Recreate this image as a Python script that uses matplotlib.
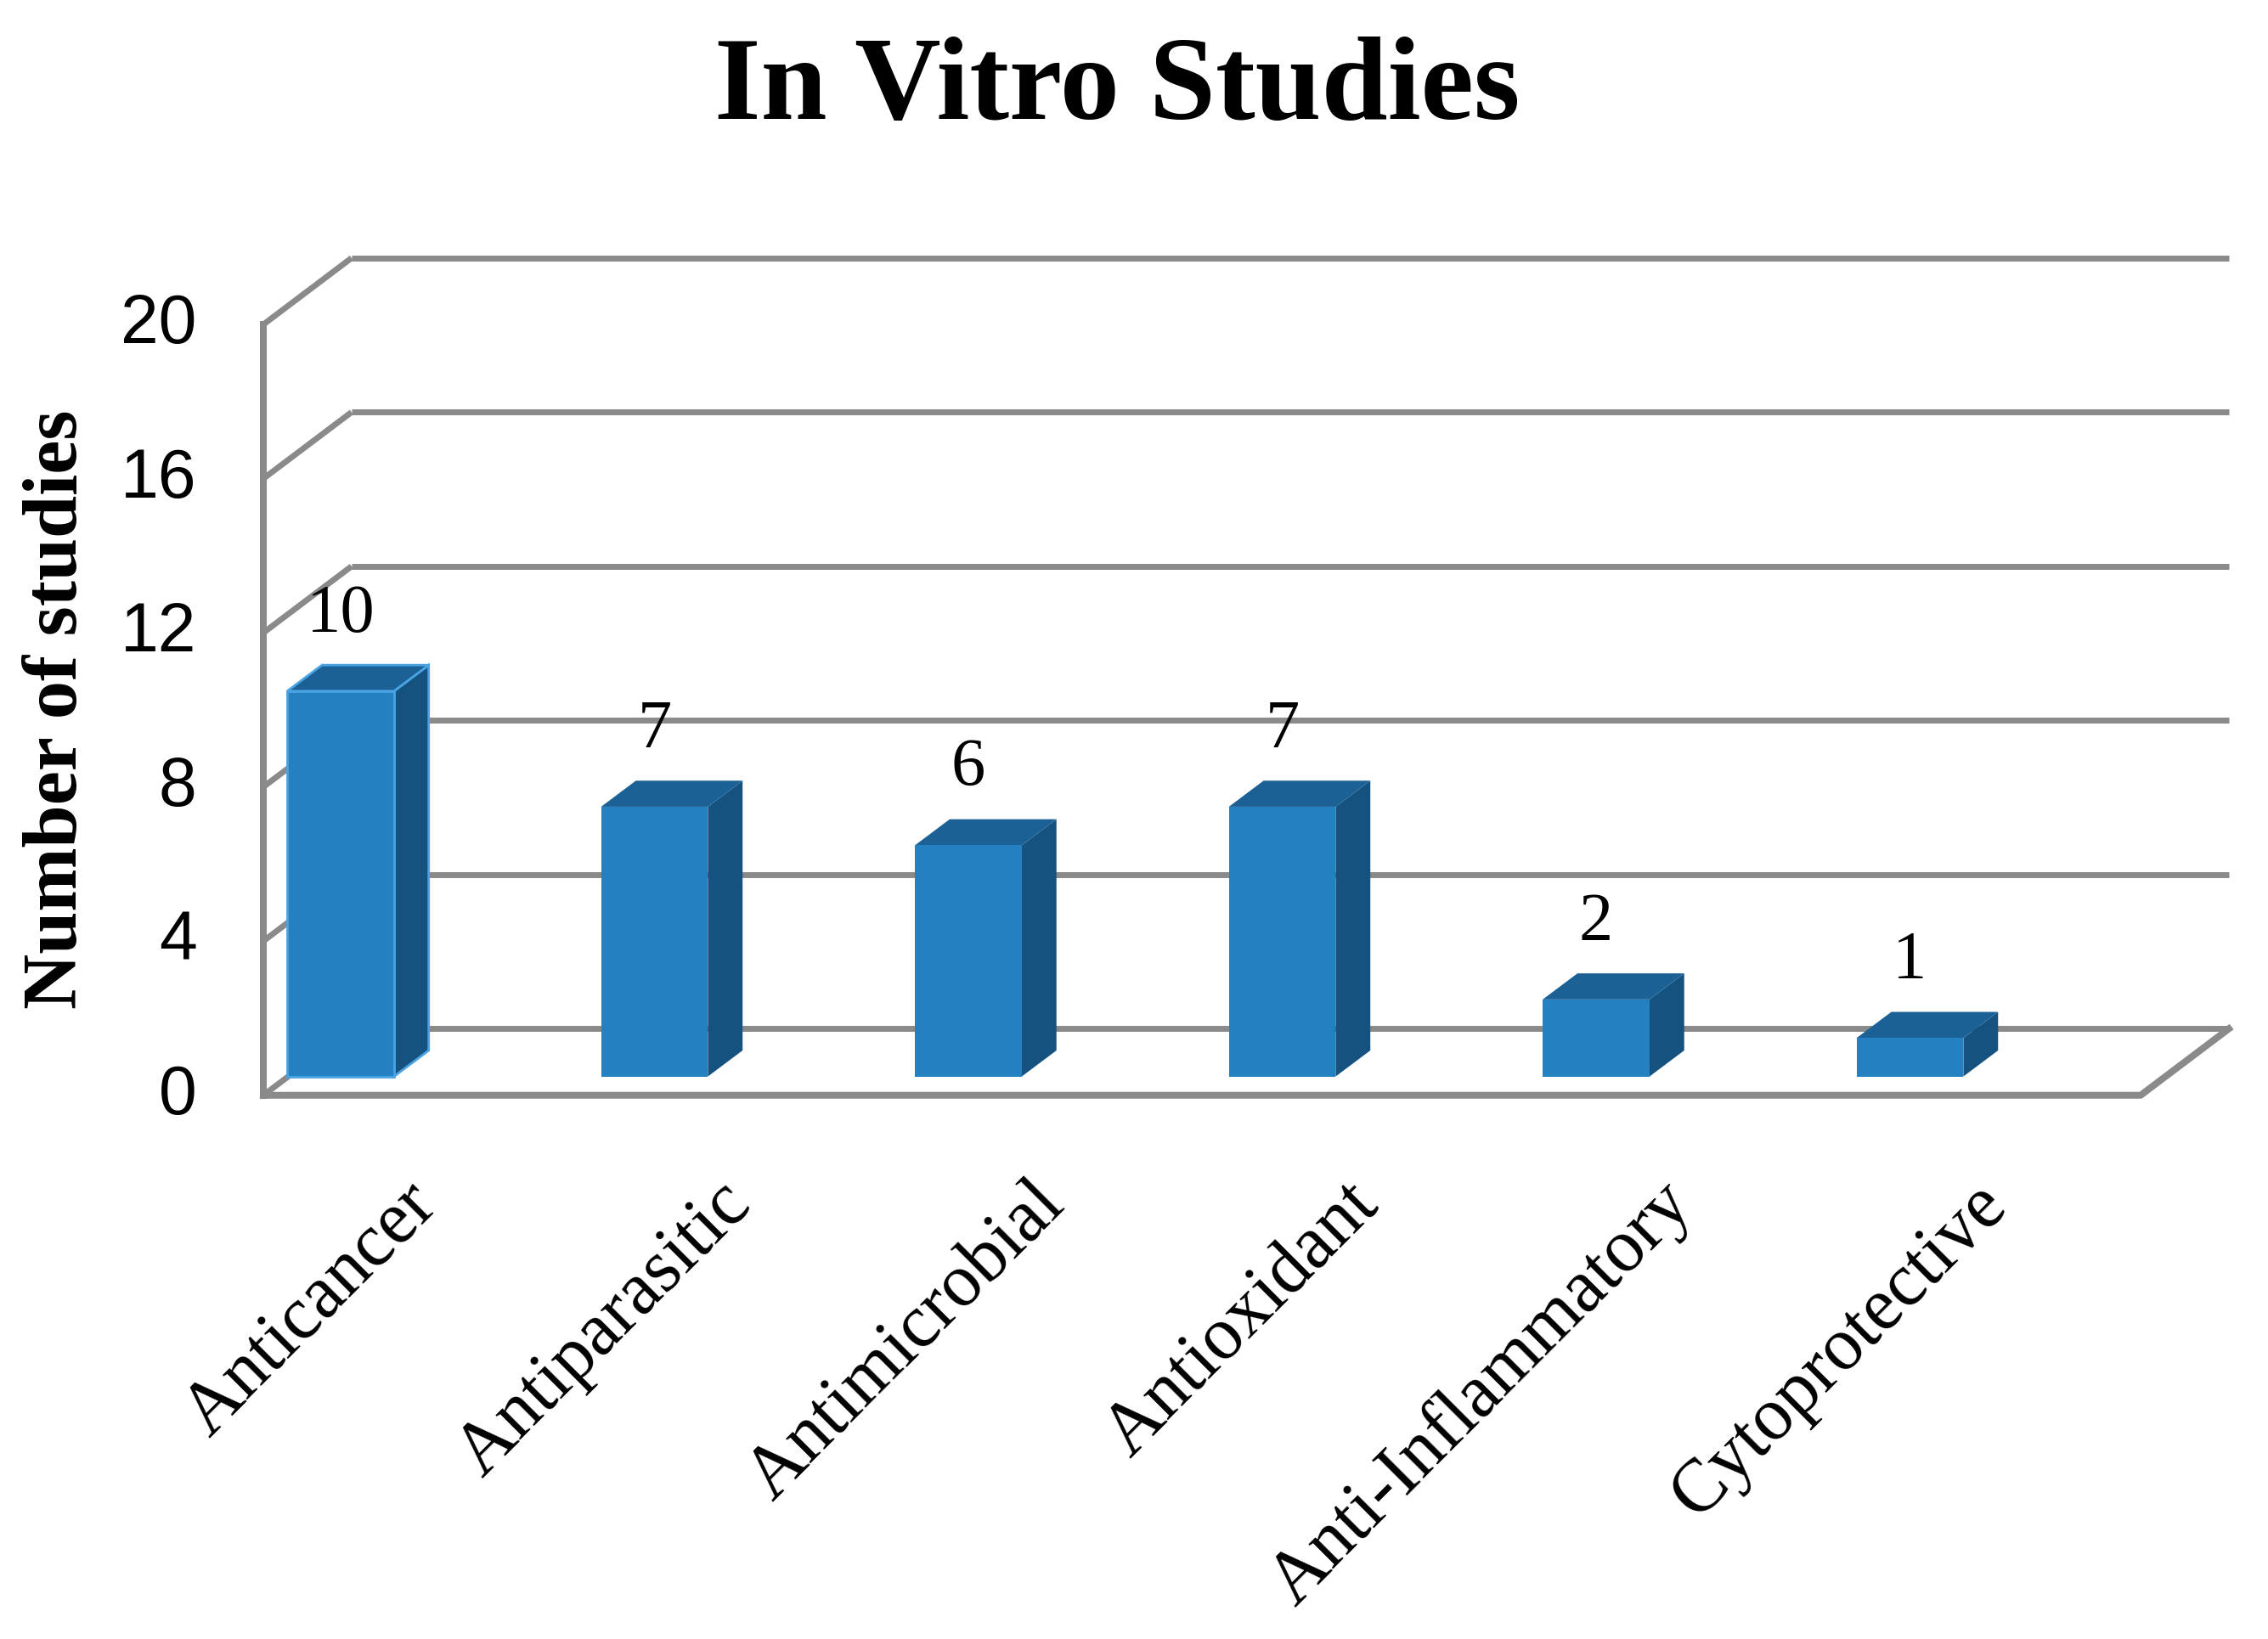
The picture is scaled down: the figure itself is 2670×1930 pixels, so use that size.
import matplotlib
matplotlib.use("Agg")
import matplotlib.pyplot as plt
from matplotlib.patches import Polygon

categories = ["Anticancer", "Antiparasitic", "Antimicrobial", "Antioxidant",
              "Anti-Inflammatory", "Cytoprotective"]
counts = [10, 7, 6, 7, 2, 1]
yticks = [0, 4, 8, 12, 16, 20]

# pseudo-3d geometry, measured in pixels of the 1568 px wide reference
CAT_PX = 217.0    # pixels between two categories
UNIT_PX = 26.65   # pixels per study


def off(dx_px, dy_px):
    return dx_px / CAT_PX, dy_px / UNIT_PX


FRONT = off(-17, -13)      # front wall plane relative to bar fronts
BACK = off(44, 33)         # back wall plane
DEPTH = off(24, 18)        # depth of each bar
x_left, x_right = -0.168, 5.813
bar_w = 0.34

grid_col = "#8a8a8a"
c_front, c_side, c_top = "#2580c2", "#16527f", "#1b6196"

fig = plt.figure(figsize=(26.7, 19.31), dpi=100)
ax = fig.add_axes([0, 0, 1, 1])
ax.set_xlim(-235.5 / CAT_PX, (1568 - 235.5) / CAT_PX)
ax.set_ylim((745 - 1134) / UNIT_PX, 745 / UNIT_PX)
ax.axis("off")

lw = 5.0
# back wall + left wall grid lines
for v in yticks:
    ax.plot([x_left + BACK[0], x_right + BACK[0]], [v + BACK[1], v + BACK[1]],
            color=grid_col, lw=lw, solid_capstyle="butt", zorder=1)
    ax.plot([x_left + FRONT[0], x_left + BACK[0]], [v + FRONT[1], v + BACK[1]],
            color=grid_col, lw=lw, solid_capstyle="butt", zorder=1)
# left wall front edge
ax.plot([x_left + FRONT[0]] * 2, [FRONT[1], yticks[-1] + FRONT[1]],
        color=grid_col, lw=lw + 0.8, zorder=1)
# floor outline
ax.plot([x_left + FRONT[0], x_right + FRONT[0], x_right + BACK[0]],
        [FRONT[1], FRONT[1], BACK[1]], color=grid_col, lw=lw + 0.8, zorder=1)

# tick labels on the front plane
for v in yticks:
    ax.text(x_left + FRONT[0] - 46 / CAT_PX, v + FRONT[1], str(v),
            ha="right", va="center", fontsize=58, family="Liberation Sans")

# bars
for i, (name, v) in enumerate(zip(categories, counts)):
    x0, x1 = i - bar_w / 2, i + bar_w / 2
    dx, dy = DEPTH
    ec = "#4aa3e2" if i == 0 else "none"
    side = Polygon([(x1, 0), (x1 + dx, dy), (x1 + dx, v + dy), (x1, v)],
                   closed=True, fc=c_side, ec=ec, lw=2, zorder=2)
    top = Polygon([(x0, v), (x1, v), (x1 + dx, v + dy), (x0 + dx, v + dy)],
                  closed=True, fc=c_top, ec=ec, lw=2, zorder=2)
    ax.add_patch(side)
    ax.add_patch(top)
    ax.bar(i, v, width=bar_w, bottom=0, color=c_front, edgecolor=ec,
           linewidth=2, zorder=3)
    ax.text(i, v + 2.0, str(v), ha="center", va="center", fontsize=58,
            family="Liberation Serif")
    ax.text(i + 0.195, -2.4, name, rotation=45, rotation_mode="anchor",
            ha="right", va="top", fontsize=63, family="Liberation Serif")

fig.text(772.5 / 1568, 1 - 82 / 1134, "In Vitro Studies", ha="center",
         va="baseline", fontsize=101, fontweight="bold", family="Liberation Serif")
fig.text(53 / 1568, 1 - 490.5 / 1134, "Number of studies", rotation=90,
         rotation_mode="anchor", ha="center", va="baseline", fontsize=65,
         fontweight="bold", family="Liberation Serif")

fig.savefig("out.png", dpi=100, facecolor="white")
